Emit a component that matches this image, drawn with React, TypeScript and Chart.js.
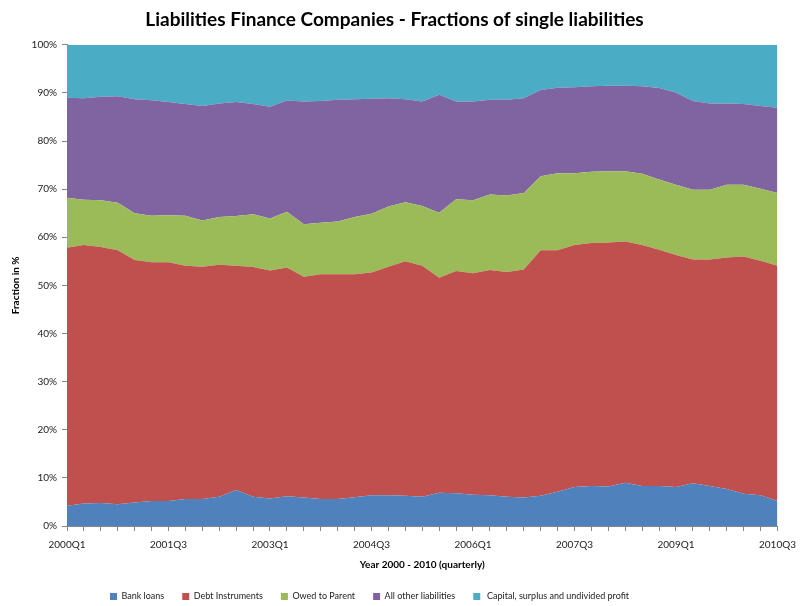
import React, { useEffect, useRef } from "react";
import { Chart, registerables } from "chart.js";

Chart.register(...registerables);

const quarters: string[] = [];
for (let y = 2000; y <= 2010; y++) {
  for (let q = 1; q <= 4; q++) {
    if (y === 2010 && q > 3) break;
    quarters.push(`${y}Q${q}`);
  }
}

const bankLoans = [4.2, 4.7, 4.8, 4.5, 4.9, 5.2, 5.2, 5.6, 5.6, 6.1, 7.5, 6.1, 5.7, 6.2, 5.9, 5.6, 5.6, 6.0, 6.4, 6.4, 6.3, 6.1, 6.9, 6.8, 6.5, 6.4, 6.1, 5.9, 6.3, 7.1, 8.1, 8.3, 8.2, 9.0, 8.3, 8.3, 8.1, 8.9, 8.3, 7.7, 6.7, 6.4, 5.2];
const debtInstruments = [53.6, 53.7, 53.2, 52.8, 50.4, 49.6, 49.6, 48.5, 48.3, 48.2, 46.6, 47.7, 47.4, 47.5, 45.9, 46.7, 46.7, 46.3, 46.3, 47.5, 48.7, 48.0, 44.7, 46.2, 46.0, 46.8, 46.7, 47.4, 51.0, 50.2, 50.3, 50.5, 50.7, 50.1, 50.1, 49.1, 48.2, 46.5, 47.1, 48.1, 49.3, 48.7, 48.9];
const owedToParent = [10.4, 9.4, 9.7, 9.9, 9.7, 9.7, 9.8, 10.4, 9.6, 9.9, 10.3, 11.0, 10.8, 11.6, 10.9, 10.7, 11.0, 11.9, 12.2, 12.5, 12.3, 12.4, 13.5, 14.9, 15.2, 15.7, 15.9, 15.9, 15.4, 16.0, 14.9, 14.8, 14.8, 14.6, 14.8, 14.6, 14.6, 14.5, 14.5, 15.1, 14.9, 15.0, 15.1];
const allOther = [20.8, 21.1, 21.5, 22.1, 23.7, 24.0, 23.5, 23.2, 23.8, 23.6, 23.7, 22.9, 23.2, 23.1, 25.5, 25.3, 25.3, 24.5, 23.9, 22.5, 21.4, 21.7, 24.5, 20.3, 20.5, 19.7, 19.9, 19.7, 17.9, 17.8, 17.9, 17.8, 17.8, 17.8, 18.2, 19.0, 19.2, 18.4, 17.9, 16.9, 16.8, 17.2, 17.7];
const capital = [11.0, 11.1, 10.8, 10.7, 11.3, 11.5, 11.9, 12.3, 12.7, 12.2, 11.9, 12.3, 12.9, 11.6, 11.8, 11.7, 11.4, 11.3, 11.2, 11.1, 11.3, 11.8, 10.4, 11.8, 11.8, 11.4, 11.4, 11.1, 9.4, 8.9, 8.8, 8.6, 8.5, 8.5, 8.6, 9.0, 9.9, 11.7, 12.2, 12.2, 12.3, 12.7, 13.1];

const seriesNames = ["Bank loans", "Debt Instruments", "Owed to Parent", "All other liabilities", " Capital, surplus and undivided profit"];
const seriesColors = ["#4F81BD", "#C0504D", "#9BBB59", "#8064A2", "#4BACC6"];
const seriesData = [bankLoans, debtInstruments, owedToParent, allOther, capital];

const FONT = "Lato, 'Liberation Sans', sans-serif";

// Legend is drawn left of centre in the reference; this plugin shifts the legend items.
const legendShift = {
  id: "legendShift",
  afterUpdate(chart: any) {
    const lg = chart.legend;
    if (!lg || !lg.legendHitBoxes) return;
    const first = lg.legendHitBoxes[0];
    if (!first) return;
    const dx = 110 - first.left;
    lg.legendHitBoxes.forEach((b: any) => {
      b.left += dx;
    });
    lg.left += dx;
    lg.right += dx;
  },
};

export default function App() {
  const ref = useRef<HTMLCanvasElement | null>(null);
  useEffect(() => {
    if (!ref.current) return;
    const chart = new Chart(ref.current, {
      type: "line",
      plugins: [legendShift],
      data: {
        labels: quarters,
        datasets: seriesData.map((d, i) => ({
          label: seriesNames[i],
          data: d,
          backgroundColor: seriesColors[i],
          borderColor: seriesColors[i],
          borderWidth: 0,
          pointRadius: 0,
          tension: 0,
          fill: i === 0 ? "origin" : "-1",
        })),
      },
      options: {
        animation: false,
        responsive: true,
        maintainAspectRatio: false,
        layout: { padding: { left: 5, right: 20, top: 0, bottom: -5 } },
        plugins: {
          title: {
            display: true,
            text: "Liabilities Finance Companies - Fractions of single liabilities",
            color: "#000",
            font: { family: FONT, size: 19, weight: "bold" },
            padding: { top: 8, bottom: 14 },
          },
          legend: {
            position: "bottom",
            labels: {
              color: "#222",
              font: { family: FONT, size: 9 },
              boxWidth: 7,
              boxHeight: 7,
              padding: 18,
            },
          },
          tooltip: { enabled: false },
        },
        scales: {
          x: {
            stacked: true,
            offset: false,
            grid: { display: true, drawOnChartArea: false, drawTicks: true, tickLength: 5, color: "#868686" },
            border: { color: "#868686" },
            ticks: {
              autoSkip: false,
              maxRotation: 0,
              color: "#222",
              font: { family: FONT, size: 10 },
              padding: 8,
              callback: function (_v: any, idx: number) {
                return idx % 6 === 0 ? quarters[idx] : "";
              },
            },
            title: {
              display: true,
              text: "Year 2000 - 2010 (quarterly)",
              color: "#000",
              font: { family: FONT, size: 10, weight: "bold" },
              padding: { top: 4, bottom: 3 },
            },
            afterFit: (scale: any) => {
              scale.height = 48;
            },
          },
          y: {
            stacked: true,
            min: 0,
            max: 100,
            grid: { display: true, drawOnChartArea: false, drawTicks: true, tickLength: 5, color: "#868686" },
            border: { color: "#868686" },
            ticks: {
              stepSize: 10,
              color: "#222",
              font: { family: FONT, size: 10 },
              padding: 5,
              callback: (v: any) => v + "%",
            },
            title: {
              display: true,
              text: "Fraction in %",
              color: "#000",
              font: { family: FONT, size: 10, weight: "bold" },
              padding: { top: 5, bottom: 0 },
            },
            afterFit: (scale: any) => {
              scale.width = 62;
            },
          },
        },
      },
    });
    return () => chart.destroy();
  }, []);
  return (
    <div style={{ position: "fixed", left: 0, top: 0, width: 804, height: 606, background: "#fff" }}>
      <canvas ref={ref} />
    </div>
  );
}
